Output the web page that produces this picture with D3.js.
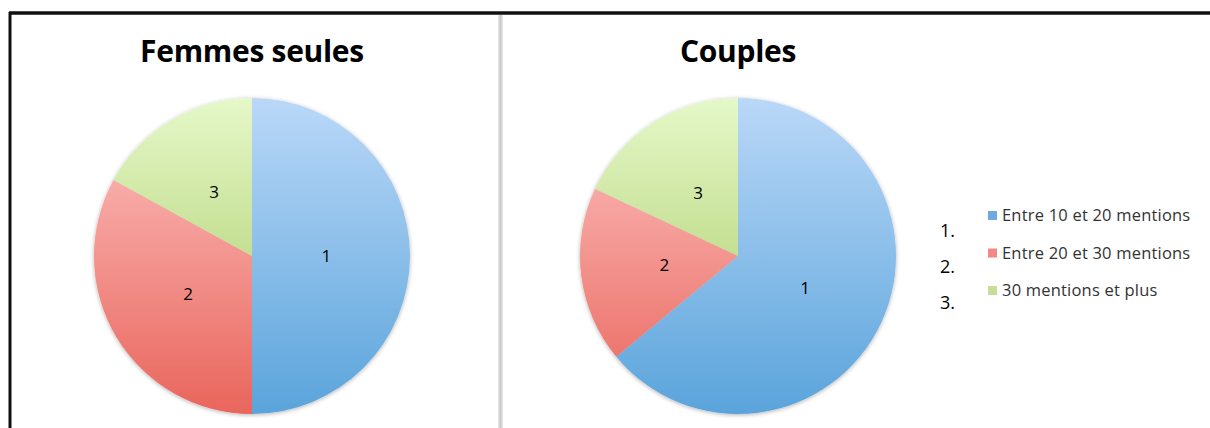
<html>
<head>
<meta charset="utf-8">
<title>Femmes seules / Couples</title>
<style>
body { margin: 0; background: #fff; }
text { font-family: "Open Sans", sans-serif; }
</style>
</head>
<body>
<svg width="1210" height="428"></svg>
<script src="https://d3js.org/d3.v7.min.js"></script>
<script>

// data (share of each group, in %)
var categories = ["Entre 10 et 20 mentions", "Entre 20 et 30 mentions", "30 mentions et plus"];
var sliceLabels = ["1", "2", "3"];
var legendNumbers = ["1.", "2.", "3."];
var titles = ["Femmes seules", "Couples"];
var femmesSeules = [50, 33, 17];
var couples = [64, 18, 18];

var svg = d3.select("svg");

var radius = 158,
    cy = 256;

var cx = d3.scalePoint()
    .domain(titles)
    .range([252, 738]);

// gradients : light on top, darker at the bottom
var grads = [
  ["#bad8f8", "#5aa4db"],
  ["#fdc4c3", "#e9655c"],
  ["#e5f8c9", "#a3c55a"]
];
var swatch = ["#6faadf", "#ef8a84", "#c5df9b"];

var defs = svg.append("defs");

titles.forEach(function(t, j) {
  grads.forEach(function(g, i) {
    var lg = defs.append("linearGradient")
        .attr("id", "g" + j + "-" + i)
        .attr("gradientUnits", "userSpaceOnUse")
        .attr("x1", 0).attr("x2", 0)
        .attr("y1", -radius).attr("y2", radius);
    lg.append("stop").attr("offset", "0%").attr("stop-color", g[0]);
    lg.append("stop").attr("offset", "100%").attr("stop-color", g[1]);
  });
});

var shadow = defs.append("filter")
    .attr("id", "shadow")
    .attr("x", "-10%").attr("y", "-10%")
    .attr("width", "120%").attr("height", "120%");
shadow.append("feDropShadow")
    .attr("dx", 0).attr("dy", 1)
    .attr("stdDeviation", 2)
    .attr("flood-color", "#000")
    .attr("flood-opacity", 0.3);

// frame
svg.append("line")
    .attr("x1", 9).attr("x2", 1210)
    .attr("y1", 13).attr("y2", 13)
    .attr("stroke", "#111").attr("stroke-width", 3.5);
svg.append("line")
    .attr("x1", 10).attr("x2", 10)
    .attr("y1", 12).attr("y2", 428)
    .attr("stroke", "#111").attr("stroke-width", 3);
svg.append("line")
    .attr("x1", 500.5).attr("x2", 500.5)
    .attr("y1", 15).attr("y2", 428)
    .attr("stroke", "#e2e2e2").attr("stroke-width", 5);
svg.append("line")
    .attr("x1", 500.5).attr("x2", 500.5)
    .attr("y1", 15).attr("y2", 428)
    .attr("stroke", "#c4c4c4").attr("stroke-width", 1.5);

var pie = d3.pie().sort(null).value(function(d) { return d; });

var arc = d3.arc().innerRadius(0).outerRadius(radius);
var labelArc = d3.arc().innerRadius(radius * 0.47).outerRadius(radius * 0.47);

[femmesSeules, couples].forEach(function(values, j) {
  var g = svg.append("g")
      .attr("transform", "translate(" + cx(titles[j]) + "," + cy + ")");

  g.append("text")
      .attr("x", 0)
      .attr("y", 62 - cy)
      .attr("text-anchor", "middle")
      .style("font-size", "30px")
      .style("font-weight", "bold")
      .style("letter-spacing", "-0.3px")
      .attr("fill", "#000")
      .text(titles[j]);

  g.append("g")
      .attr("filter", "url(#shadow)")
    .selectAll("path")
    .data(pie(values))
    .enter().append("path")
      .attr("d", arc)
      .attr("fill", function(d, i) { return "url(#g" + j + "-" + i + ")"; });

  g.selectAll(".lbl")
    .data(pie(values))
    .enter().append("text")
      .attr("class", "lbl")
      .attr("transform", function(d) { return "translate(" + labelArc.centroid(d) + ")"; })
      .attr("text-anchor", "middle")
      .attr("dy", "0.35em")
      .style("font-size", "17px")
      .attr("fill", "#000")
      .text(function(d, i) { return sliceLabels[i]; });
});

// legend
var legend = svg.append("g");
var rowY = d3.scalePoint().domain(categories).range([216, 291]);

legend.selectAll(".num")
  .data(legendNumbers)
  .enter().append("text")
    .attr("class", "num")
    .attr("x", 940)
    .attr("y", function(d, i) { return rowY(categories[i]) + 21 - i * 1.5; })
    .style("font-size", "18px")
    .attr("fill", "#000")
    .text(function(d) { return d; });

legend.selectAll("rect")
  .data(categories)
  .enter().append("rect")
    .attr("x", 988)
    .attr("y", function(d) { return rowY(d) - 5; })
    .attr("width", 9)
    .attr("height", 9)
    .attr("fill", function(d, i) { return swatch[i]; });

legend.selectAll(".cat")
  .data(categories)
  .enter().append("text")
    .attr("class", "cat")
    .attr("x", 1002)
    .attr("y", function(d) { return rowY(d) + 5; })
    .style("font-size", "16.5px")
    .style("letter-spacing", "0.2px")
    .attr("fill", "#333")
    .text(function(d) { return d; });

</script>
</body>
</html>
